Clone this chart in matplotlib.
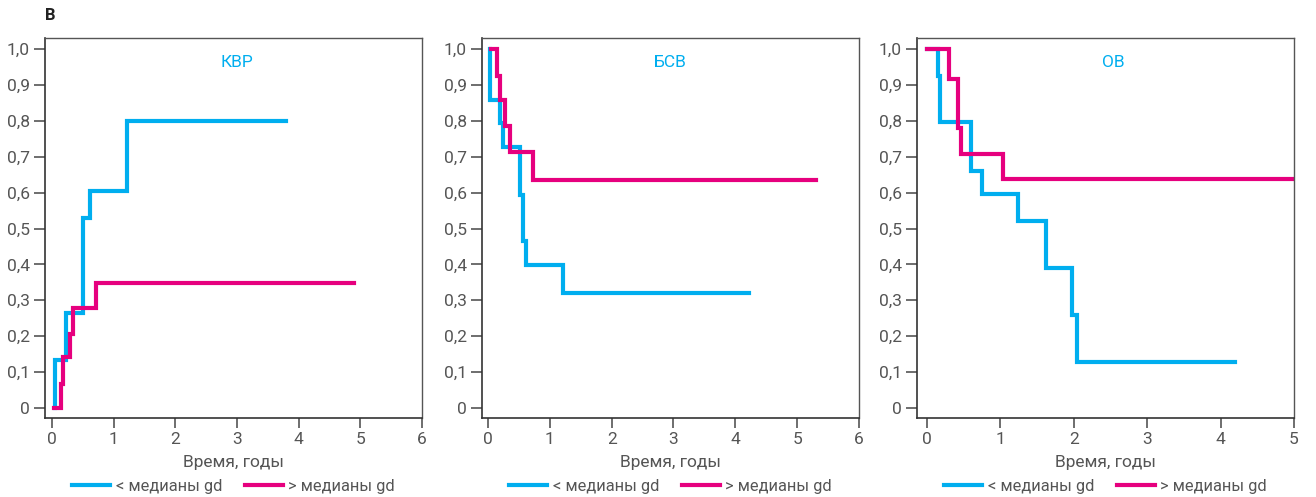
import matplotlib
matplotlib.use("Agg")
import matplotlib.pyplot as plt
from matplotlib.ticker import FuncFormatter

plt.rcParams['font.family'] = ['Roboto', 'DejaVu Sans']

BLUE = '#00AEEF'
PINK = '#E6007E'
GRAY = '#555555'

panel_titles = ['КВР', 'БСВ', 'ОВ']
legend_labels = ['< медианы gd', '> медианы gd']
x_label = 'Время, годы'
panel_letter = 'В'

# Panel 1: КВР (cumulative incidence)
kvr_low_t = [0.05, 0.05, 0.22, 0.51, 0.62, 1.22, 3.79]
kvr_low_v = [0.0, 0.135, 0.265, 0.53, 0.605, 0.80, 0.80]
kvr_high_t = [0.03, 0.15, 0.18, 0.30, 0.34, 0.72, 4.90]
kvr_high_v = [0.0, 0.067, 0.141, 0.206, 0.279, 0.348, 0.348]

# Panel 2: БСВ
bsv_low_t = [0.03, 0.03, 0.19, 0.24, 0.52, 0.56, 0.62, 1.22, 4.22]
bsv_low_v = [1.0, 0.858, 0.795, 0.728, 0.593, 0.464, 0.398, 0.319, 0.319]
bsv_high_t = [0.05, 0.14, 0.19, 0.28, 0.36, 0.73, 5.30]
bsv_high_v = [1.0, 0.926, 0.858, 0.786, 0.714, 0.635, 0.635]

# Panel 3: ОВ
ov_low_t = [0.0, 0.155, 0.18, 0.595, 0.745, 1.24, 1.62, 1.97, 2.05, 4.19]
ov_low_v = [1.0, 0.925, 0.798, 0.661, 0.595, 0.522, 0.389, 0.259, 0.129, 0.129]
ov_high_t = [0.0, 0.30, 0.42, 0.46, 1.03, 5.0]
ov_high_v = [1.0, 0.918, 0.779, 0.709, 0.637, 0.637]

y_ticks = [0, 0.1, 0.2, 0.3, 0.4, 0.5, 0.6, 0.7, 0.8, 0.9, 1.0]

panels = [
    (kvr_low_t, kvr_low_v, kvr_high_t, kvr_high_v, 6, [0, 1, 2, 3, 4, 5, 6], -0.113),
    (bsv_low_t, bsv_low_v, bsv_high_t, bsv_high_v, 6, [0, 1, 2, 3, 4, 5, 6], -0.097),
    (ov_low_t, ov_low_v, ov_high_t, ov_high_v, 5, [0, 1, 2, 3, 4, 5], -0.136),
]
lefts = [45 / 1316, 482 / 1316, 917 / 1316]
title_x = [0.51, 0.5, 0.52]

fig = plt.figure(figsize=(13.16, 4.97), dpi=100)

def yfmt(v, pos):
    if abs(v) < 1e-9:
        return '0'
    return f'{v:.1f}'.replace('.', ',')

for i, (lt, lv, ht, hv, xmax, xt, xmin) in enumerate(panels):
    ax = fig.add_axes([lefts[i], 79 / 497, 377 / 1316, 380 / 497])
    l1, = ax.plot(lt, lv, drawstyle='steps-post', color=BLUE, lw=3.0,
                  solid_joinstyle='miter', label=legend_labels[0])
    l2, = ax.plot(ht, hv, drawstyle='steps-post', color=PINK, lw=3.0,
                  solid_joinstyle='miter', label=legend_labels[1])
    ax.set_xlim(xmin, xmax)
    ax.set_ylim(-0.028, 1.031)
    ax.set_xticks(xt)
    ax.set_yticks(y_ticks)
    ax.yaxis.set_major_formatter(FuncFormatter(yfmt))
    ax.tick_params(axis='y', length=8, width=1.2, color=GRAY, labelcolor=GRAY,
                   labelsize=12.5, pad=3)
    ax.tick_params(axis='x', length=7, width=1.2, color=GRAY, labelcolor=GRAY,
                   labelsize=12.5, pad=3)
    for s in ['left', 'bottom']:
        ax.spines[s].set_color('#333333')
        ax.spines[s].set_linewidth(1.2)
    for s in ['top', 'right']:
        ax.spines[s].set_color('#555555')
        ax.spines[s].set_linewidth(1.0)
    ax.set_xlabel(x_label, fontsize=12.5, color=GRAY, labelpad=6)
    ax.text(title_x[i], 0.935, panel_titles[i], transform=ax.transAxes,
            ha='center', va='center', color=BLUE, fontsize=12.5)
    ax.legend(handles=[l1, l2], loc='upper center', bbox_to_anchor=(0.5, -0.143),
              ncol=2, frameon=False, fontsize=11.8, handlelength=2.3,
              columnspacing=1.4, handletextpad=0.35, labelcolor=GRAY,
              borderaxespad=0)

fig.text(45 / 1316, 1 - 16 / 497, panel_letter, fontsize=12, fontweight='bold',
         color='#222222', ha='left', va='center')

fig.savefig('out.png', dpi=100)
